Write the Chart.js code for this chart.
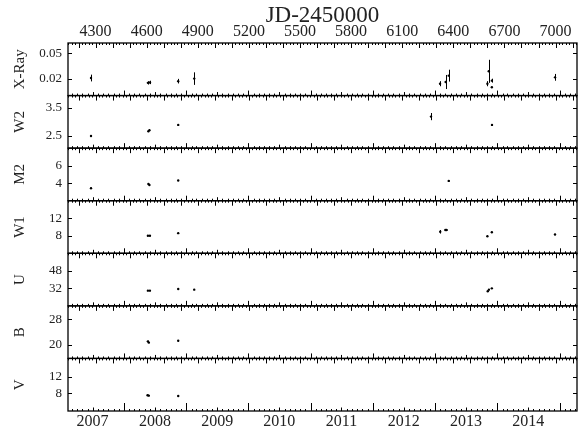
<!DOCTYPE html>
<html>
<head>
<meta charset="utf-8">
<script src="https://cdn.jsdelivr.net/npm/chart.js@4/dist/chart.umd.min.js"></script>
<style>
  body { margin:0; background:#fff; }
  #c { display:block; }
</style>
</head>
<body>
<canvas id="c" width="585" height="434"></canvas>
<script>
// x range (JD-2450000)
const X_MIN = 4138, X_MAX = 7126;
const JD_TICKS = [4300, 4600, 4900, 5200, 5500, 5800, 6100, 6400, 6700, 7000];
const YEARS = [2007, 2008, 2009, 2010, 2011, 2012, 2013, 2014];

// X-Ray
const XRAY_JD   = [4273, 4607, 4619, 4785, 4879, 6322, 6355, 6373, 6600, 6608, 6626, 6626, 6997];
const XRAY_RATE = [0.0207, 0.015, 0.0155, 0.017, 0.020, 0.014, 0.016, 0.0235, 0.014, 0.0286, 0.0176, 0.0098, 0.0215];
const XRAY_ERR  = [0.004, 0.002, 0.002, 0.0027, 0.0074, 0.003, 0.0083, 0.007, 0.003, 0.0136, 0.0023, 0.0006, 0.004];
// UVOT W2
const W2_JD  = [4273, 4610, 4616, 4785, 6269, 6627];
const W2_VAL = [2.49, 2.66, 2.70, 2.89, 3.19, 2.89];
const W2_ERR = [0.02, 0.03, 0.03, 0.03, 0.13, 0.03];
// M2
const M2_JD  = [4273, 4610, 4616, 4785, 6373];
const M2_VAL = [3.43, 3.9, 3.8, 4.3, 4.26];
const M2_ERR = [0.05, 0.05, 0.05, 0.05, 0.05];
// W1
const W1_JD  = [4607, 4619, 4785, 6323, 6353, 6360, 6600, 6626, 6997];
const W1_VAL = [8.0, 8.0, 8.6, 8.9, 9.3, 9.3, 7.9, 8.8, 8.3];
const W1_ERR = [0.1, 0.1, 0.1, 0.4, 0.1, 0.1, 0.1, 0.1, 0.1];
// U
const U_JD  = [4607, 4619, 4785, 4879, 6602, 6609, 6626];
const U_VAL = [29.9, 29.9, 31.4, 30.8, 29.3, 30.8, 32.0];
const U_ERR = [0.3, 0.3, 0.3, 0.3, 0.3, 0.3, 0.3];
// B
const B_JD  = [4607, 4612, 4785];
const B_VAL = [21.1, 20.7, 21.3];
const B_ERR = [0.2, 0.2, 0.2];
// V
const V_JD  = [4605, 4612, 4785];
const V_VAL = [7.5, 7.4, 7.3];
const V_ERR = [0.1, 0.1, 0.1];

// panels top to bottom
const PANEL_NAMES = ["X-Ray", "W2", "M2", "W1", "U", "B", "V"];
const PANEL_MIN = [0, 2.05, 2, 4, 16, 15.8, 3.6];
const PANEL_MAX = [0.062, 3.95, 8, 16, 64, 32.1, 16.6];
const PANEL_TICKS = [[0.02, 0.05], [2.5, 3.5], [4, 6], [8, 12], [32, 48], [20, 28], [8, 12]];

const SERIES = [
  [XRAY_JD, XRAY_RATE, XRAY_ERR],
  [W2_JD, W2_VAL, W2_ERR],
  [M2_JD, M2_VAL, M2_ERR],
  [W1_JD, W1_VAL, W1_ERR],
  [U_JD, U_VAL, U_ERR],
  [B_JD, B_VAL, B_ERR],
  [V_JD, V_VAL, V_ERR]
];

const FONT = "'Liberation Serif', 'DejaVu Serif', serif";
const INK = "#000";

function jdOf(y, m){ // first day of month m in year y, as JD-2450000
  return Date.UTC(y, m, 1) / 86400000 + 2440587.5 - 2450000;
}

let datasets = SERIES.map((s,i)=>({
  label: PANEL_NAMES[i],
  yAxisID: "y" + i,
  xAxisID: "x",
  data: s[0].map((jd,k)=>({x: jd, y: s[1][k]})),
  errs: s[2],
  pointRadius: 1.2,
  pointBorderWidth: 0,
  backgroundColor: INK,
  borderColor: INK,
  showLine: false
}));

let scales = {
  x: {
    type: "linear", position: "bottom", min: X_MIN, max: X_MAX,
    grid: {display:false, drawTicks:false}, border: {display:false},
    afterBuildTicks: s => { s.ticks = YEARS.map(y=>({value: jdOf(y,6)})); },
    afterFit: s => { s.height = 23; },
    ticks: {autoSkip:false, maxRotation:0, padding:1, color:"#222", font:{family:FONT, size:16},
      callback: (v,i) => String(YEARS[i])}
  },
  x2: {
    type: "linear", position: "top", min: X_MIN, max: X_MAX,
    grid: {display:false, drawTicks:false}, border: {display:false},
    afterBuildTicks: s => { s.ticks = JD_TICKS.map(v=>({value:v})); },
    afterFit: s => { s.height = 43; },
    title: {display:true, text:"JD-2450000", color:"#222", font:{family:FONT, size:23, lineHeight:1}, padding:{top:4, bottom:0}},
    ticks: {autoSkip:false, maxRotation:0, padding:2, color:"#222", font:{family:FONT, size:16},
      callback: v => String(v)}
  }
};

// left boxes are stacked in reverse order, so add the bottom panel first
for(let i = PANEL_NAMES.length - 1; i >= 0; i--){
  scales["y"+i] = {
    type: "linear", position: "left", stack: "bands", stackWeight: 1,
    min: PANEL_MIN[i], max: PANEL_MAX[i],
    grid: {display:false, drawTicks:false}, border: {display:false},
    afterBuildTicks: s => { s.ticks = PANEL_TICKS[i].map(v=>({value:v})); },
    afterFit: s => { s.width = 66; },
    title: {display:true, text:PANEL_NAMES[i], color:"#222", font:{family:FONT, size:15}, padding:{top:9, bottom:0}},
    ticks: {autoSkip:false, padding:6, color:"#222", font:{family:FONT, size:13},
      callback: v => String(v)}
  };
}

// frames, inward tick marks and error bars
const framePlugin = {
  id: "frames",
  afterDatasetsDraw(chart){
    const ctx = chart.ctx;
    const area = chart.chartArea;
    const xs = chart.scales.x;
    ctx.save();
    ctx.strokeStyle = INK;

    // error bars
    ctx.lineWidth = 1;
    chart.data.datasets.forEach((ds,i)=>{
      const ys = chart.scales[ds.yAxisID];
      ds.data.forEach((p,k)=>{
        const px = Math.round(xs.getPixelForValue(p.x)) + 0.5;
        ctx.beginPath();
        ctx.moveTo(px, ys.getPixelForValue(p.y - ds.errs[k]));
        ctx.lineTo(px, ys.getPixelForValue(p.y + ds.errs[k]));
        ctx.stroke();
      });
    });

    PANEL_NAMES.forEach((name,i)=>{
      const ys = chart.scales["y"+i];
      const top = ys.top, bot = ys.bottom;
      const last = i === PANEL_NAMES.length - 1;
      ctx.lineWidth = 1.3;
      ctx.strokeRect(area.left, top, area.right - area.left, bot - top);

      ctx.lineWidth = 1;
      ctx.beginPath();
      // top edge: JD ticks pointing down
      for(let jd = Math.ceil(X_MIN/20)*20; jd <= X_MAX; jd += 20){
        const px = Math.round(xs.getPixelForValue(jd)) + 0.5;
        const len = jd % 100 === 0 ? 5 : 2;
        ctx.moveTo(px, top); ctx.lineTo(px, top + len);
      }
      // bottom edge: calendar ticks pointing up
      for(let y = 2006; y <= 2015; y++){
        for(let m = 0; m < 12; m++){
          const jd = jdOf(y, m);
          if(jd < X_MIN || jd > X_MAX) continue;
          const px = Math.round(xs.getPixelForValue(jd)) + 0.5;
          let len = 2;
          if(m === 0) len = last ? 8 : 5;
          else if(m === 6) len = 3.5;
          ctx.moveTo(px, bot); ctx.lineTo(px, bot - len);
        }
      }
      // y ticks on both sides
      PANEL_TICKS[i].forEach(v=>{
        const py = Math.round(ys.getPixelForValue(v)) + 0.5;
        ctx.moveTo(area.left, py); ctx.lineTo(area.left + 4, py);
        ctx.moveTo(area.right, py); ctx.lineTo(area.right - 4, py);
      });
      ctx.stroke();
    });
    ctx.restore();
  }
};

new Chart(document.getElementById("c"), {
  type: "scatter",
  data: {datasets},
  options: {
    responsive: false,
    animation: false,
    layout: {padding: {left:2, right:8, top:0, bottom:0}},
    plugins: {legend:{display:false}, tooltip:{enabled:false}},
    scales
  },
  plugins: [framePlugin]
});
</script>
</body>
</html>
